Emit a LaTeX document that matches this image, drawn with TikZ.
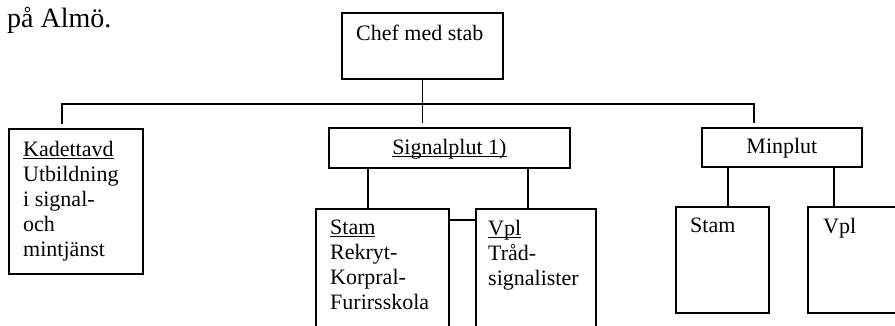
\documentclass[tikz,border=0pt]{standalone}
\usepackage{fontspec}
\setmainfont{Liberation Serif}
\usetikzlibrary{calc}
\newcommand\understr[1]{\setbox0=\hbox{#1}\rlap{\rule[-2.5pt]{\wd0}{1pt}}\box0}

\begin{document}
\begin{tikzpicture}[x=1pt, y=-1pt,
  orgbox/.style={draw, line width=\lineWidth pt, rectangle, inner sep=0pt, anchor=north west},
  orgtext/.style={inner sep=0pt, align=left, font=\fontsize{22}{25}\selectfont},
  orgline/.style={line width=\lineWidth pt}]


\def\lineWidth{1.8}
\def\gap{4.5}
\useasboundingbox (0,0) rectangle (895,325);
\clip (0,0) rectangle (895,325);

\coordinate (bus-left) at (62,104);
\coordinate (bus-right) at (754,104);

\node[orgbox, minimum width=161pt, minimum height=66pt] (chef) at (341,12) {};
\node[orgbox, minimum width=134pt, minimum height=145pt] (kadett) at (8,128) {};
\node[orgbox, minimum width=241pt, minimum height=40pt] (signal) at (328,127) {};
\node[orgbox, minimum width=160pt, minimum height=39pt] (min) at (701,127) {};

\node[orgbox, minimum width=133pt, minimum height=140pt] (signal-stam) at (315,208) {};
\node[orgbox, minimum width=120pt, minimum height=140pt] (signal-vpl) at (475,208) {};
\node[orgbox, minimum width=93pt, minimum height=106pt] (min-stam) at (675,206) {};
\node[orgbox, minimum width=110pt, minimum height=106pt] (min-vpl) at (807,206) {};


%TEXT

\node[inner sep=0pt, anchor=base west, font=\fontsize{28}{32}\selectfont] (heading) at (7,27) {på Almö.};
\node[orgtext, anchor=north west] (chef-text) at ($(chef.north west) + (15,13)$) {Chef med stab};
\node[orgtext, anchor=north west] (kadett-text) at ($(kadett.north west) + (15,13)$) {\understr{Kadettavd}\\Utbildning\\i signal-\\och\\mintjänst};
\node[orgtext, anchor=base] (signal-text) at ($(signal.center) + (0,7)$) {\understr{Signalplut 1)}};
\node[orgtext, anchor=base] (min-text) at ($(min.center) + (0,6.5)$) {Minplut};
\node[orgtext, anchor=north west] (signal-stam-text) at ($(signal-stam.north west) + (15,12)$) {\understr{Stam}\\Rekryt-\\Korpral-\\Furirsskola};
\node[orgtext, anchor=north west] (signal-vpl-text) at ($(signal-vpl.north west) + (13,12)$) {\understr{Vpl}\\Tråd-\\signalister};
\node[orgtext, anchor=north west] (min-stam-text) at ($(min-stam.north west) + (15,12)$) {Stam};
\node[orgtext, anchor=north west] (min-vpl-text) at ($(min-vpl.north west) + (16,12)$) {Vpl};


%DRAW

\draw[orgline, shorten >=\gap pt] (chef.south) -- (chef.south |- signal.north);
\draw[orgline, shorten <=\gap pt, shorten >=\gap pt] (bus-left |- kadett.north) -- (bus-left) -- (bus-right) -- (bus-right |- min.north);

\draw[orgline] (signal.south -| 368,0) -- (signal-stam.north -| 368,0);
\draw[orgline] (signal.south -| 528,0) -- (signal-vpl.north -| 528,0);
\draw[orgline] (signal-stam.east |- 0,220) -- (signal-vpl.west |- 0,220);

\draw[orgline] (min.south -| 728,0) -- (min-stam.north -| 728,0);
\draw[orgline] (min.south -| 834,0) -- (min-vpl.north -| 834,0);


\end{tikzpicture}
\end{document}
